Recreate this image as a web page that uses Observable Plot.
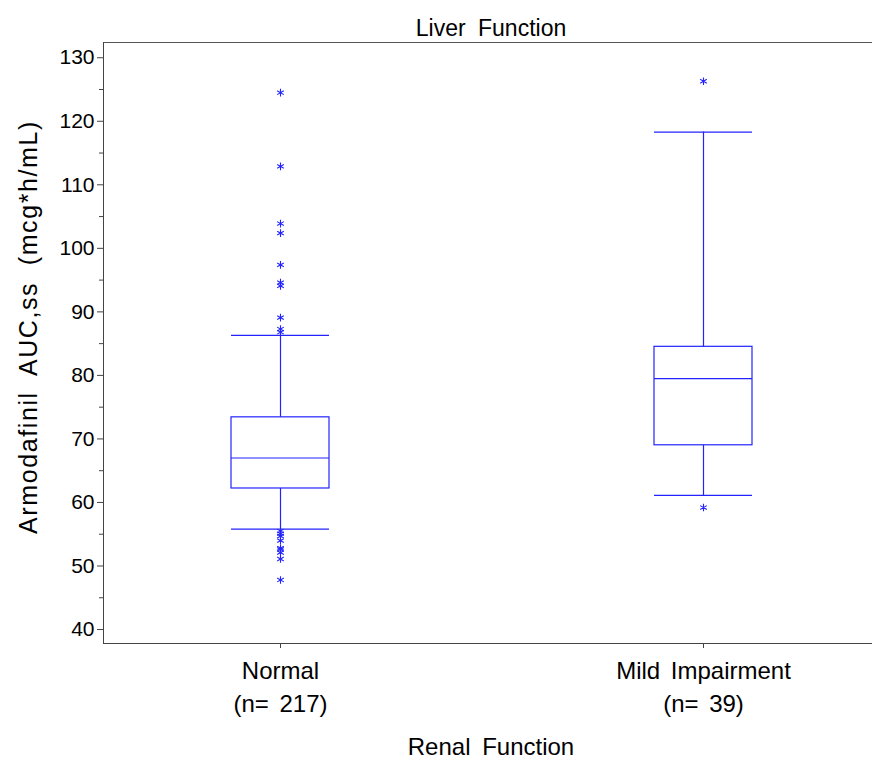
<!DOCTYPE html>
<html>
<head>
<meta charset="utf-8">
<script src="https://cdn.jsdelivr.net/npm/d3@7"></script>
<script src="https://cdn.jsdelivr.net/npm/@observablehq/plot@0.6"></script>
<style>
  html, body { margin: 0; padding: 0; background: #fff; }
  #chart svg { display: block; }
  .ytitle text { letter-spacing: 1.6px; word-spacing: 8px; }
  .ctitle text { word-spacing: 6px; }
  .xtitle text { word-spacing: 5px; }
  .xaxis text { word-spacing: 4px; }
</style>
</head>
<body>
<div id="chart"></div>
<script>
// ---- data ----
const groups = ["Normal", "Mild Impairment"];
const nLabels = ["(n= 217)", "(n= 39)"];
const q1 = [62.2, 69.0];
const median = [67.0, 79.5];
const q3 = [73.4, 84.5];
const whiskerLow = [55.8, 61.1];
const whiskerHigh = [86.3, 118.3];
const normalOutliers = [124.5, 112.9, 103.9, 102.4, 97.4, 94.6, 94.1, 89.1, 87.3, 86.8,
                        55.5, 55.1, 54.7, 54.0, 52.8, 52.6, 52.1, 51.1, 47.8];
const mildOutliers = [126.3, 59.2];
const majorTicks = [40, 50, 60, 70, 80, 90, 100, 110, 120, 130];
const minorTicks = [45, 55, 65, 75, 85, 95, 105, 115, 125];
const titleText = "Liver Function";
const xTitle = "Renal Function";
const yTitle = "Armodafinil AUC,ss (mcg*h/mL)";

const boxes = groups.map((g, i) => ({
  group: g, q1: q1[i], median: median[i], q3: q3[i], lo: whiskerLow[i], hi: whiskerHigh[i]
}));
const outliers = [
  ...normalOutliers.map(v => ({group: groups[0], value: v})),
  ...mildOutliers.map(v => ({group: groups[1], value: v}))
];
const tickLabel = new Map(groups.map((g, i) => [g, g + "\n" + nLabels[i]]));

const blue = "#2323ff";
const font = "'Liberation Sans', Arial, Helvetica, sans-serif";

const chart = Plot.plot({
  width: 872,
  height: 760,
  marginTop: 42,
  marginBottom: 117,
  marginLeft: 103,
  marginRight: 0,
  style: {fontFamily: font, color: "#000", background: "#fff"},
  x: {type: "band", domain: groups, range: [230.5, 752], paddingInner: 0.7686, paddingOuter: 0, label: null},
  y: {domain: [37.8, 132.4], label: null},
  marks: [
    Plot.frame({anchor: "top", stroke: "#555"}),
    Plot.frame({anchor: "left", stroke: "#444"}),
    Plot.frame({anchor: "bottom", stroke: "#444"}),
    Plot.axisY({ticks: majorTicks, tickSize: 6, tickPadding: 3, fontSize: 21, stroke: "#444", fill: "#000", label: null}),
    Plot.axisY({ticks: minorTicks, tickSize: 4, stroke: "#444", label: null, text: null}),
    Plot.axisX({tickSize: 5, tickPadding: 7, fontSize: 24, lineHeight: 1.375, stroke: "#444", fill: "#000",
                tickFormat: d => tickLabel.get(d), label: null, className: "xaxis"}),
    // whiskers
    Plot.ruleX(boxes, {x: "group", y1: "q3", y2: "hi", stroke: blue, strokeWidth: 1.2}),
    Plot.ruleX(boxes, {x: "group", y1: "lo", y2: "q1", stroke: blue, strokeWidth: 1.2}),
    Plot.tickY(boxes, {x: "group", y: "hi", stroke: blue, strokeWidth: 1.2}),
    Plot.tickY(boxes, {x: "group", y: "lo", stroke: blue, strokeWidth: 1.2}),
    // boxes
    Plot.barY(boxes, {x: "group", y1: "q1", y2: "q3", fill: "none", stroke: blue, strokeWidth: 1.2}),
    Plot.tickY(boxes, {x: "group", y: "median", stroke: blue, strokeWidth: 1.2}),
    // outliers
    Plot.dot(outliers, {x: "group", y: "value", symbol: "asterisk", r: 3.6, stroke: blue, strokeWidth: 1.1}),
    // titles
    Plot.text([titleText], {frameAnchor: "top", dx: 3, dy: -14, fontSize: 23, lineAnchor: "middle", fill: "#000", className: "ctitle"}),
    Plot.text([xTitle], {frameAnchor: "bottom", dx: 3, dy: 104, fontSize: 24, lineAnchor: "middle", fill: "#000", className: "xtitle"}),
    Plot.text([yTitle], {frameAnchor: "left", dx: -75, dy: -16, rotate: -90, fontSize: 25, lineAnchor: "middle", textAnchor: "middle", fill: "#000", className: "ytitle"})
  ]
});
document.getElementById("chart").appendChild(chart);
</script>
</body>
</html>
